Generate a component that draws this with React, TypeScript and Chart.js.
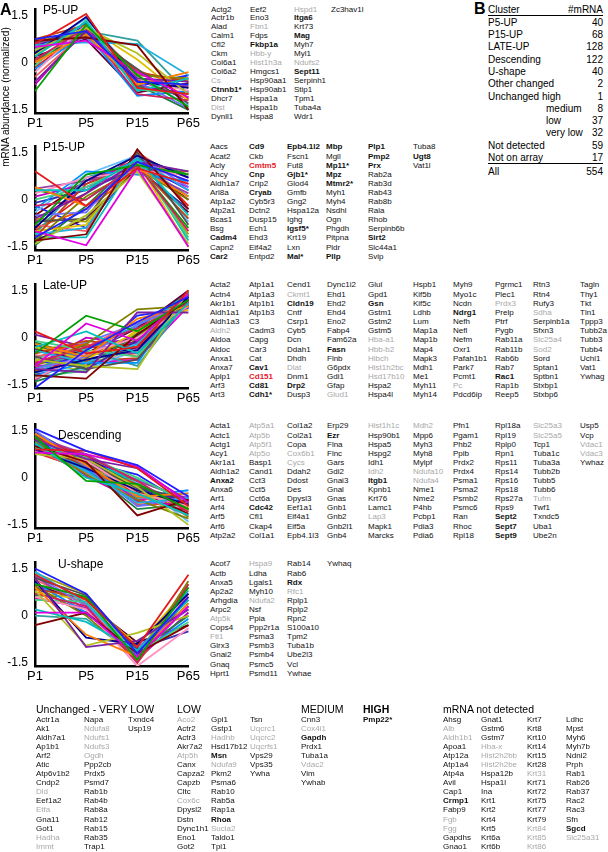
import React, { useEffect, useRef } from 'react';
import { Chart, registerables } from 'chart.js';

Chart.register(...registerables);

const FONT = '"Liberation Sans", Arial, Helvetica, sans-serif';

// ---------- chart data ----------
const timepoints = ['P1', 'P5', 'P15', 'P65'];
const yTickValues = [-1.5, 0, 1.5];

const p5UpSeries = [
  [0.75, 1.0, -0.6, -0.7], [0.6, 1.55, -0.8, -1.0], [-0.9, 1.2, -0.4, -1.4], [0.5, 0.7, -0.3, -1.1],
  [0.2, 1.3, -0.9, -0.5], [0.7, 0.8, 0.55, -1.5], [-0.6, 1.0, -0.5, -0.6], [0.4, 1.1, 0.3, -1.0],
  [0.0, 0.9, -0.7, -0.3], [0.3, 1.45, -0.6, -0.8], [0.1, 1.1, -1.0, -1.2], [0.55, 0.65, 0.6, -0.4],
  [-0.3, 1.2, -0.5, -0.9], [0.65, 0.95, -0.2, -1.3], [0.35, 1.0, -0.4, -0.5], [-0.1, 1.35, -0.85, -1.0],
  [0.45, 0.8, -0.6, -1.45], [0.75, 1.2, -0.3, -0.6], [-0.2, 0.95, -1.05, -0.9], [0.25, 1.15, 0.1, -1.2],
  [0.6, 1.05, -0.5, -0.75], [0.1, 0.85, -0.7, -1.5], [-0.45, 1.0, -0.6, -0.5], [0.5, 1.25, -0.8, -0.95],
  [0.55, 1.0, 0.7, -1.0], [0.7, 0.9, -0.35, -0.55], [-0.7, 1.1, -0.7, -1.1], [0.2, 0.75, -0.95, -0.65],
  [0.4, 1.4, -0.45, -1.35], [0.05, 1.0, -0.25, -0.8], [0.6, 1.15, -0.75, -0.4], [-0.15, 1.05, -0.55, -1.15],
];

const p15UpSeries = [
  [-1.2, -0.3, 1.2, 0.6], [0.9, -0.2, 1.0, 0.5], [-0.8, 0.8, 1.1, 0.8], [-1.0, -1.45, 1.0, -1.5],
  [0.3, 0.3, 1.3, -0.5], [-1.3, -1.1, 1.6, -0.3], [-0.6, 0.2, 1.2, 0.9], [-1.4, -0.5, 0.9, -1.4],
  [0.4, -0.2, 1.0, 0.1], [-0.9, 0.6, 1.4, 0.7], [-0.2, 0.0, 1.1, -1.0], [-1.1, -0.9, 1.3, 0.3],
  [0.2, 0.7, 0.9, 0.8], [-0.7, -0.6, 1.5, -0.8], [-1.3, 0.1, 1.0, 0.0], [0.0, 0.4, 1.2, -1.2],
  [-0.5, -0.4, 1.4, 0.4], [-1.2, 0.5, 1.1, -0.6], [-0.3, 0.9, 0.8, 0.6], [-1.0, -0.8, 1.2, -1.5],
  [0.35, 0.6, 1.0, 0.2], [-1.45, -0.2, 1.3, 0.8], [-0.8, -1.0, 1.5, 0.5], [-0.1, 0.3, 1.0, -0.3],
  [-1.1, 0.7, 1.2, 0.1], [-0.6, -0.7, 1.1, -1.1], [0.1, 0.5, 1.3, 0.7], [-1.3, -0.6, 1.0, -0.4],
  [-0.4, 0.8, 1.4, -0.7], [-0.9, -0.3, 0.9, 0.9], [-0.2, -0.9, 1.2, 0.3], [-1.0, 0.2, 1.5, -0.2],
  [0.3, 0.0, 1.1, -0.9], [-0.7, 0.4, 1.0, 0.4], [-1.2, -1.2, 1.3, -1.3], [-0.5, 0.6, 1.2, 0.0],
];

const lateUpSeries = [
  [-1.6, -0.4, 0.5, 1.3], [0.2, -0.5, -0.3, 1.5], [-0.5, 0.7, 0.2, 1.2], [-0.9, 0.45, -0.1, 1.4],
  [-0.3, 0.2, -0.5, 1.1], [-1.2, -1.3, 0.1, 1.2], [-1.0, -1.1, 0.8, 0.8], [-0.7, -0.9, -1.0, 1.5],
  [-0.2, -0.6, 0.6, 1.0], [-1.1, -0.7, -0.4, 1.3], [-0.8, -0.3, 0.3, 1.1], [-0.4, -0.8, -0.2, 1.4],
  [-1.3, -0.5, 0.0, 1.0], [-0.6, -1.0, -0.7, 1.2], [-0.9, -0.2, 0.9, 1.0], [-0.1, -0.4, -0.6, 1.3],
  [-1.0, -0.6, 0.4, 1.15], [-0.5, -0.1, -0.3, 1.35], [-1.2, -0.8, -0.8, 1.45], [-0.3, -0.7, 0.2, 0.9],
  [-0.8, -0.5, -0.5, 1.25], [-1.4, -0.9, 0.1, 1.1], [-0.6, -0.3, 0.5, 1.05], [-0.2, -1.0, -0.1, 1.4],
  [-1.0, -0.4, -0.9, 1.2], [-0.7, -0.6, 0.0, 1.3], [-0.9, 0.0, -0.2, 1.0], [-0.4, -0.5, 0.3, 1.5],
  [-1.1, -1.0, -0.4, 1.1], [-0.5, -0.2, -0.6, 1.2], [-0.8, -0.7, 0.7, 0.95], [-1.3, -0.3, -0.3, 1.35],
  [-0.3, -0.9, 0.1, 1.2], [-0.9, -0.8, -0.7, 1.0], [-0.6, -0.4, 0.4, 1.4], [-1.2, -0.6, -0.1, 1.25],
  [0.1, -0.3, 0.0, 1.1], [-0.7, -1.1, 0.2, 1.3], [-1.0, -0.5, -0.5, 1.5], [-0.4, -0.7, -0.3, 1.05],
  [-0.85, -0.45, -0.15, 1.15], [-1.15, -0.35, 0.35, 1.3], [-0.55, -0.85, -0.45, 1.1], [-0.95, -0.65, 0.15, 1.45],
  [-0.35, -0.25, -0.05, 1.25], [-1.25, -1.05, -0.25, 1.05], [-0.65, -0.15, 0.45, 1.35], [-1.05, -0.75, -0.65, 1.2],
  [-0.45, -0.55, 0.05, 0.95], [-0.75, -0.95, 0.25, 1.4], [-1.35, -0.45, -0.35, 1.15], [-0.15, -0.65, 0.15, 1.3],
];

const descendingSeries = [
  [1.55, 0.85, 0.4, -0.6], [0.9, 0.85, 0.3, -0.9], [1.3, -0.1, -0.2, -1.0], [0.8, 0.75, 0.35, -0.8],
  [1.1, 0.0, -0.5, -1.2], [1.0, 0.5, -1.2, -0.7], [1.2, 0.6, 0.3, -0.75], [0.75, 0.6, -0.3, -1.5],
  [1.4, 0.4, -0.6, -0.5], [0.9, 0.3, -0.4, -0.85], [1.25, 0.7, -0.1, -1.1], [1.05, 0.2, -0.8, -0.65],
  [0.85, 0.55, -0.5, -0.9], [1.35, 0.45, -0.3, -0.7], [1.15, 0.1, -0.7, -1.3], [0.95, 0.65, 0.0, -0.8],
  [1.5, 0.35, -0.9, -0.6], [1.0, 0.4, -0.2, -1.0], [1.2, 0.25, -0.6, -0.4], [0.8, 0.5, -0.4, -0.95],
  [1.3, 0.75, -0.1, -0.7], [1.1, 0.3, -1.0, -0.85], [0.9, 0.15, -0.55, -1.2], [1.45, 0.55, -0.35, -0.75],
  [1.05, 0.6, -0.65, -0.5], [0.85, 0.35, -0.25, -1.05], [1.25, 0.05, -0.75, -0.9], [1.0, 0.7, -0.45, -0.65],
  [1.35, 0.2, -0.15, -1.4], [0.95, 0.45, -0.85, -0.8], [1.15, 0.5, 0.1, -0.9], [0.8, 0.25, -0.5, -0.7],
  [1.4, 0.6, -0.3, -1.0], [1.1, 0.4, -0.7, -0.6], [0.9, 0.65, -0.2, -0.85], [1.2, 0.3, -0.4, -1.15],
  [1.05, 0.5, -0.35, -0.8], [0.85, 0.2, -0.6, -0.95], [1.3, 0.55, -0.5, -0.75], [1.15, 0.7, -0.25, -0.85],
  [0.95, 0.35, -0.7, -1.05], [1.25, 0.45, -0.05, -0.7], [0.8, 0.4, -0.45, -0.6], [1.4, 0.3, -0.55, -0.9],
  [1.0, 0.6, -0.15, -1.25], [1.2, 0.15, -0.4, -0.8], [0.9, 0.5, -0.9, -0.75], [1.1, 0.65, -0.3, -1.0],
];

const uShapeSeries = [
  [1.5, 0.7, -1.2, 0.6], [1.3, 0.5, -1.0, 1.3], [1.0, 0.6, -1.4, 0.9], [0.1, 0.1, -1.3, 0.3],
  [0.2, -0.2, -1.1, 0.5], [-0.3, 0.1, -1.2, -0.3], [1.2, -1.0, -0.8, 0.2], [0.8, -0.95, -0.55, 0.0],
  [0.9, -0.6, -1.3, 0.4], [1.1, -0.7, -0.9, 0.7], [0.7, 0.3, -1.5, 1.0], [1.4, 0.4, -1.3, 0.8],
  [0.6, 0.2, -1.6, -0.4], [1.2, 0.65, -1.1, 0.5], [0.95, 0.0, -1.4, 1.1], [0.5, 0.45, -1.2, -0.2],
  [1.3, 0.3, -1.0, 0.2], [0.85, 0.55, -1.5, 0.6], [1.05, 0.1, -1.25, -0.1], [0.75, 0.5, -0.95, 0.9],
  [1.25, 0.2, -1.35, 0.3], [0.65, 0.6, -1.15, 0.0], [1.15, 0.35, -1.45, 0.7], [0.9, 0.05, -1.05, -0.5],
  [0.0, -0.1, -1.3, 0.4], [1.35, 0.7, -1.2, 1.0], [0.55, 0.25, -1.4, 0.1], [1.0, 0.4, -0.85, -0.3],
];

const lineColors = [
  '#1f1fff', '#e41a1c', '#00a000', '#e000e0', '#00c0c0', '#800000', '#7b1fa2', '#b0c020',
  '#ff7f00', '#000090', '#d02060', '#20b0e0', '#ff90c0', '#505050', '#808000', '#40d080',
  '#7070ff', '#c04010', '#0090ff', '#e0c000', '#a040a0', '#208040', '#f06060', '#3030b0',
  '#30a0a0', '#a0a000', '#c000c0', '#600030', '#60c0ff', '#ff5000',
];

// ---------- gene lists ----------
const p5UpGenes = [
  'Actg2', 'Actr1b', 'Alad', 'Calm1', 'Cfl2', 'Ckm', 'Col6a1', 'Col6a2', 'Cs', 'Ctnnb1*', 'Dhcr7', 'Dlst', 'Dynll1',
  'Eef2', 'Eno3', 'Fbn1', 'Fdps', 'Fkbp1a', 'Hbb-y', 'Hist1h3a', 'Hmgcs1', 'Hsp90aa1', 'Hsp90ab1', 'Hspa1a', 'Hspa1b', 'Hspa8',
  'Hspd1', 'Itga6', 'Krt73', 'Mag', 'Myh7', 'Myl1', 'Ndufs2', 'Sept11', 'Serpinh1', 'Stip1', 'Tpm1', 'Tuba4a', 'Wdr1',
  'Zc3hav1l',
];
const p15UpGenes = [
  'Aacs', 'Acat2', 'Acly', 'Ahcy', 'Aldh1a7', 'Arl8a', 'Atp1a2', 'Atp2a1', 'Bcas1', 'Bsg', 'Cadm4', 'Capn2', 'Car2',
  'Cd9', 'Ckb', 'Cmtm5', 'Cnp', 'Crip2', 'Cryab', 'Cyb5r3', 'Dctn2', 'Dusp15', 'Ech1', 'Ehd3', 'Eif4a2', 'Entpd2',
  'Epb4.1l2', 'Fscn1', 'Fut8', 'Gjb1*', 'Glod4', 'Gmfb', 'Gng2', 'Hspa12a', 'Ighg', 'Igsf5*', 'Krt19', 'Lxn', 'Mal*',
  'Mbp', 'Mgll', 'Mp11*', 'Mpz', 'Mtmr2*', 'Myh1', 'Myh4', 'Nsdhl', 'Ogn', 'Phgdh', 'Pitpna', 'Pldr', 'Pllp',
  'Plp1', 'Pmp2', 'Prx', 'Rab2a', 'Rab3d', 'Rab43', 'Rab8b', 'Rala', 'Rhob', 'Serpinb6b', 'Sirt2', 'Slc44a1', 'Svip',
  'Tuba8', 'Ugt8', 'Vat1l',
];
const lateUpGenes = [
  'Acta2', 'Actn4', 'Akr1b1', 'Aldh1a1', 'Aldh1a3', 'Aldh2', 'Aldoa', 'Aldoc', 'Anxa1', 'Anxa7', 'Aplp1', 'Arf3', 'Art3',
  'Atp1a1', 'Atp1a3', 'Atp1b1', 'Atp1b3', 'C3', 'Cadm3', 'Capg', 'Car3', 'Cat', 'Cav1', 'Cd151', 'Cd81', 'Cdh1*',
  'Cend1', 'Ckmt1', 'Cldn19', 'Cntf', 'Csrp1', 'Cyb5', 'Dcn', 'Ddah1', 'Dhdh', 'Dlat', 'Dnm1', 'Drp2', 'Dusp3',
  'Dync1i2', 'Ehd1', 'Ehd2', 'Ehd4', 'Eno2', 'Fabp4', 'Fam62a', 'Fasn', 'Flnb', 'G6pdx', 'Gdi1', 'Gfap', 'Glud1',
  'Glul', 'Gpd1', 'Gsn', 'Gstm1', 'Gstm2', 'Gstm5', 'Hba-a1', 'Hbb-b2', 'Hibch', 'Hist1h2bc', 'Hsd17b10', 'Hspa2', 'Hspa4l',
  'Hspb1', 'Kif5b', 'Kif5c', 'Ldhb', 'Lum', 'Map1a', 'Map1b', 'Map4', 'Mapk3', 'Mdh1', 'Me1', 'Myh11', 'Myh14',
  'Myh9', 'Myo1c', 'Ncdn', 'Ndrg1', 'Nefh', 'Nefl', 'Nefm', 'Oxr1', 'Pafah1b1', 'Park7', 'Pcmt1', 'Pc', 'Pdcd6ip',
  'Pgrmc1', 'Plec1', 'Prdx3', 'Prelp', 'Ptrf', 'Pygb', 'Rab11a', 'Rab11b', 'Rab6b', 'Rab7', 'Rac1', 'Rap1b', 'Reep5',
  'Rtn3', 'Rtn4', 'Rufy3', 'Sdha', 'Serpinb1a', 'Sfxn3', 'Slc25a4', 'Sod2', 'Sord', 'Sptan1', 'Sptbn1', 'Stxbp1', 'Stxbp6',
  'Tagln', 'Thy1', 'Tkt', 'Tln1', 'Tppp3', 'Tubb2a', 'Tubb3', 'Tubb4', 'Uchl1', 'Vat1', 'Ywhag',
];
const descendingGenes = [
  'Acta1', 'Actc1', 'Actg1', 'Acy1', 'Akr1a1', 'Aldh1a2', 'Anxa2', 'Anxa6', 'Arf1', 'Arf4', 'Arf5', 'Arf6', 'Atp2a2',
  'Atp5a1', 'Atp5b', 'Atp5f1', 'Atp5o', 'Basp1', 'Cand1', 'Cct3', 'Cct5', 'Cct6a', 'Cdc42', 'Cfl1', 'Ckap4', 'Col1a1',
  'Col1a2', 'Col2a1', 'Copa', 'Cox6b1', 'Cycs', 'Ddah2', 'Ddost', 'Des', 'Dpysl3', 'Eef1a1', 'Eif4a1', 'Eif5a', 'Epb4.1l3',
  'Erp29', 'Ezr', 'Flna', 'Flnc', 'Gars', 'Gdi2', 'Gnai3', 'Gnal', 'Gnas', 'Gnb1', 'Gnb2', 'Gnb2l1', 'Gnb4',
  'Hist1h1c', 'Hsp90b1', 'Hspa5', 'Hspg2', 'Idh1', 'Idh2', 'Itgb1', 'Kpnb1', 'Krt76', 'Lamc1', 'Lap3', 'Mapk1', 'Marcks',
  'Mdh2', 'Mpp6', 'Myh3', 'Myh8', 'Mylpf', 'Ndufa10', 'Ndufa4', 'Nme1', 'Nme2', 'P4hb', 'Pcbp1', 'Pdia3', 'Pdia6',
  'Pfn1', 'Pgam1', 'Phb2', 'Ppib', 'Prdx2', 'Prdx4', 'Psma1', 'Psma2', 'Psmb2', 'Psmc6', 'Ran', 'Rhoc', 'Rpl18',
  'Rpl18a', 'Rpl19', 'Rplp0', 'Rpn1', 'Rps11', 'Rps14', 'Rps16', 'Rps18', 'Rps27a', 'Rps9', 'Sept2', 'Sept7', 'Sept9',
  'Slc25a3', 'Slc25a5', 'Tcp1', 'Tuba1c', 'Tuba3a', 'Tubb2b', 'Tubb5', 'Tubb6', 'Tufm', 'Twf1', 'Txndc5', 'Uba1', 'Ube2n',
  'Usp5', 'Vcp', 'Vdac1', 'Vdac3', 'Ywhaz',
];
const uShapeGenes = [
  'Acot7', 'Actb', 'Anxa5', 'Ap2a2', 'Arhgdia', 'Arpc2', 'Atp5k', 'Cops4', 'Ftl1', 'Glrx3', 'Gnai2', 'Gnaq', 'Hprt1',
  'Hspa9', 'Ldha', 'Lgals1', 'Myh10', 'Ndufa2', 'Nsf', 'Ppia', 'Ppp2r1a', 'Psma3', 'Psmb3', 'Psmb4', 'Psmc5', 'Psmd11',
  'Rab14', 'Rab6', 'Rdx', 'Rfc1', 'Rplp1', 'Rplp2', 'Rpn2', 'S100a10', 'Tpm2', 'Tuba1b', 'Ube2l3', 'Vcl', 'Ywhae',
  'Ywhaq',
];
const veryLowGenes = [
  'Actr1a', 'Ak1', 'Aldh7a1', 'Ap1b1', 'Arf2', 'Atic', 'Atp6v1b2', 'Cndp2', 'Dld', 'Eef1a2', 'Etfa', 'Gna11', 'Got1', 'Hadha', 'Immt',
  'Napa', 'Ndufa8', 'Ndufs1', 'Ndufs3', 'Ogdh', 'Ppp2cb', 'Prdx5', 'Psmd7', 'Rab1b', 'Rab4b', 'Rab8a', 'Rab12', 'Rab15', 'Rab35', 'Trap1',
  'Txndc4', 'Usp19',
];
const lowGenes = [
  'Aco2', 'Actr2', 'Actr3', 'Akr7a2', 'Atp5h', 'Canx', 'Capza2', 'Capzb', 'Cltc', 'Cox6c', 'Dpysl2', 'Dstn', 'Dync1h1', 'Eno1', 'Got2',
  'Gpi1', 'Gstp1', 'Hadhb', 'Hsd17b12', 'Msn', 'Ndufa9', 'Pkm2', 'Psma6', 'Rab10', 'Rab5a', 'Rap1a', 'Rhoa', 'Sucla2', 'Taldo1', 'Tpi1',
  'Tsn', 'Uqcrc1', 'Uqcrc2', 'Uqcrfs1', 'Vps29', 'Vps35', 'Ywha',
];
const mediumGenes = ['Cnn3', 'Cox4i1', 'Gapdh', 'Prdx1', 'Tuba1a', 'Vdac2', 'Vim', 'Ywhab'];
const highGenes = ['Pmp22*'];
const notDetectedGenes = [
  'Ahsg', 'Alb', 'Aldh1b1', 'Apoa1', 'Atp12a', 'Atp1a4', 'Atp4a', 'Avil', 'Cap1', 'Crmp1', 'Fabp9', 'Fgb', 'Fgg', 'Gapdhs', 'Gnao1',
  'Gnat1', 'Gstm6', 'Gstm7', 'Hba-x', 'Hist2h2bb', 'Hist2h2be', 'Hspa12b', 'Hspa1l', 'Ina', 'Krt1', 'Krt2', 'Krt4', 'Krt5', 'Krt6a', 'Krt6b',
  'Krt7', 'Krt8', 'Krt10', 'Krt14', 'Krt15', 'Krt28', 'Krt31', 'Krt71', 'Krt72', 'Krt75', 'Krt77', 'Krt79', 'Krt84', 'Krt85', 'Krt86',
  'Ldhc', 'Mpst', 'Myh6', 'Myh7b', 'Ndnl2', 'Prph', 'Rab1', 'Rab26', 'Rab37', 'Rac2', 'Rac3', 'Sfn', 'Sgcd', 'Slc25a31',
];

const boldGenes = [
  'Ctnnb1*', 'Fkbp1a', 'Itga6', 'Mag', 'Sept11',
  'Cadm4', 'Car2', 'Cd9', 'Cmtm5', 'Cnp', 'Cryab', 'Epb4.1l2', 'Gjb1*', 'Igsf5*', 'Mal*', 'Mbp', 'Mp11*', 'Mpz', 'Mtmr2*',
  'Pllp', 'Plp1', 'Pmp2', 'Prx', 'Sirt2', 'Ugt8',
  'Cav1', 'Cd151', 'Cd81', 'Cdh1*', 'Cldn19', 'Drp2', 'Fasn', 'Gsn', 'Ndrg1', 'Rac1',
  'Anxa2', 'Cdc42', 'Ezr', 'Itgb1', 'Sept2', 'Sept7', 'Sept9', 'Rdx',
  'Msn', 'Rhoa', 'Gapdh', 'Pmp22*', 'Crmp1', 'Sgcd',
];
const redGenes = ['Cmtm5', 'Cd151'];
const grayGenes = [
  'Cs', 'Dlst', 'Fbn1', 'Hbb-y', 'Hist1h3a', 'Hspd1', 'Ndufs2',
  'Aldh2', 'Ckmt1', 'Dlat', 'Glud1', 'Hba-a1', 'Hbb-b2', 'Hibch', 'Hist1h2bc', 'Hsd17b10', 'Pc', 'Prdx3', 'Sdha', 'Slc25a4', 'Sod2',
  'Atp5a1', 'Atp5b', 'Atp5f1', 'Atp5o', 'Cox6b1', 'Cycs', 'Hist1h1c', 'Idh2', 'Lap3', 'Mdh2', 'Ndufa10', 'Ndufa4',
  'Slc25a3', 'Slc25a5', 'Tufm', 'Vdac1', 'Vdac3',
  'Atp5k', 'Ftl1', 'Hspa9', 'Ndufa2', 'Rfc1',
  'Dld', 'Etfa', 'Hadha', 'Immt', 'Ndufa8', 'Ndufs1', 'Ndufs3', 'Ogdh',
  'Aco2', 'Atp5h', 'Cox6c', 'Hadhb', 'Ndufa9', 'Sucla2', 'Uqcrc1', 'Uqcrc2', 'Uqcrfs1',
  'Cox4i1', 'Vdac2',
  'Alb', 'Aldh1b1', 'Fgb', 'Fgg', 'Hba-x', 'Hist2h2bb', 'Hist2h2be', 'Krt31', 'Krt84', 'Krt85', 'Krt86', 'Slc25a31',
];

// ---------- table B ----------
const clusterNames = [
  'P5-UP', 'P15-UP', 'LATE-UP', 'Descending', 'U-shape', 'Other changed', 'Unchanged high',
  'medium', 'low', 'very low', 'Not detected', 'Not on array',
];
const clusterCounts = [40, 68, 128, 122, 40, 2, 1, 8, 37, 32, 59, 17];
const totalLabel = 'All';
const totalCount = 554;

// ---------- components ----------
function LinePanel({ series, top }: { series: number[][]; top: number }) {
  const ref = useRef<HTMLCanvasElement>(null);
  useEffect(() => {
    const chart = new Chart(ref.current as HTMLCanvasElement, {
      type: 'line',
      data: {
        labels: timepoints,
        datasets: series.map((s, i) => ({
          data: s,
          borderColor: lineColors[i % lineColors.length],
          backgroundColor: lineColors[i % lineColors.length],
          borderWidth: 1.8,
          pointRadius: 0,
          fill: false,
          tension: 0,
        })),
      },
      options: {
        animation: false,
        responsive: false,
        maintainAspectRatio: false,
        layout: { padding: { top: 8, right: 12, left: 0, bottom: 0 } },
        plugins: { legend: { display: false }, tooltip: { enabled: false } },
        scales: {
          x: {
            type: 'category',
            offset: false,
            grid: { display: false, drawTicks: false },
            border: { display: true, color: '#000', width: 2.5 },
            ticks: { color: '#000', font: { family: FONT, size: 13 }, padding: 3, maxRotation: 0, autoSkip: false },
            afterFit: (s: any) => { s.height = 20; },
          },
          y: {
            min: -1.6,
            max: 1.7,
            grid: { display: false, drawTicks: false },
            border: { display: true, color: '#000', width: 2.5 },
            ticks: {
              color: '#000',
              font: { family: FONT, size: 12 },
              padding: 7,
              callback: (v: any) => (Number(v) === 0 ? '0' : String(v)),
            },
            afterBuildTicks: (s: any) => { s.ticks = yTickValues.map((v) => ({ value: v })); },
            afterFit: (s: any) => { s.width = 35; },
          },
        },
      },
    });
    return () => chart.destroy();
  }, [series]);
  return (
    <canvas
      ref={ref}
      width={203}
      height={138}
      style={{ position: 'absolute', left: 0, top, width: 203, height: 138 }}
    />
  );
}

function Txt({ x, y, size, children, bold, color, align, width }: any) {
  return (
    <div
      style={{
        position: 'absolute',
        left: align === 'right' ? x - (width || 100) : x,
        width: align === 'right' ? width || 100 : undefined,
        textAlign: align === 'right' ? 'right' : 'left',
        top: y - size * 0.6,
        height: size * 1.2,
        lineHeight: `${size * 1.2}px`,
        fontSize: size,
        fontFamily: FONT,
        fontWeight: bold ? 'bold' : 'normal',
        color: color || '#000',
        whiteSpace: 'nowrap',
      }}
    >
      {children}
    </div>
  );
}

function GeneList({ genes, xs, y0, dy, perCol }: { genes: string[]; xs: number[]; y0: number; dy: number; perCol: number }) {
  const items: any[] = [];
  genes.forEach((g, i) => {
    const c = Math.floor(i / perCol);
    const r = i % perCol;
    const red = redGenes.includes(g);
    const gray = grayGenes.includes(g);
    const bold = boldGenes.includes(g);
    items.push(
      <div
        key={g + i}
        style={{
          position: 'absolute',
          left: xs[c],
          top: y0 - dy / 2 + r * dy,
          height: dy,
          lineHeight: `${dy}px`,
          fontSize: 8,
          fontFamily: FONT,
          fontWeight: bold ? 'bold' : 'normal',
          color: red ? '#e8202a' : gray ? '#a8a8a8' : '#111',
          whiteSpace: 'nowrap',
        }}
      >
        {g}
      </div>
    );
  });
  return <>{items}</>;
}

const wideCols = [210, 249, 287, 327, 368, 413, 453, 495, 533, 580];

export default function App() {
  const rowY = (i: number) => 22.7 + i * 12.3;
  return (
    <div style={{ position: 'absolute', left: 0, top: 0, width: 608, height: 852, background: '#fff', overflow: 'hidden' }}>
      <LinePanel series={p5UpSeries} top={-5} />
      <LinePanel series={p15UpSeries} top={132} />
      <LinePanel series={lateUpSeries} top={270} />
      <LinePanel series={descendingSeries} top={410} />
      <LinePanel series={uShapeSeries} top={548} />

      <Txt x={0} y={10} size={16} bold>A</Txt>
      <div
        style={{
          position: 'absolute', left: 6 - 80, top: 97 - 6, width: 160, height: 12, lineHeight: '12px',
          textAlign: 'center', fontSize: 10, fontFamily: FONT, transform: 'rotate(-90deg)', whiteSpace: 'nowrap',
        }}
      >
        mRNA abundance (normalized)
      </div>

      <Txt x={43} y={10} size={12}>P5-UP</Txt>
      <Txt x={43} y={147} size={12}>P15-UP</Txt>
      <Txt x={43} y={285} size={12}>Late-UP</Txt>
      <Txt x={58} y={435} size={12}>Descending</Txt>
      <Txt x={58} y={564} size={12}>U-shape</Txt>

      <GeneList genes={p5UpGenes} xs={[211, 250, 294, 331]} y0={10} dy={8.95} perCol={13} />
      <GeneList genes={p15UpGenes} xs={[210, 249, 287, 326, 368, 413]} y0={147} dy={9.1} perCol={13} />
      <GeneList genes={lateUpGenes} xs={wideCols} y0={285} dy={9.17} perCol={13} />
      <GeneList genes={descendingGenes} xs={wideCols} y0={426} dy={9.1} perCol={13} />
      <GeneList genes={uShapeGenes} xs={wideCols} y0={564} dy={9.1} perCol={13} />

      <Txt x={36} y={709} size={10.5}>Unchanged - VERY LOW</Txt>
      <Txt x={177} y={709} size={10.5}>LOW</Txt>
      <Txt x={301} y={709} size={10.5}>MEDIUM</Txt>
      <Txt x={363} y={709} size={10.5} bold>HIGH</Txt>
      <Txt x={443} y={709} size={10.5}>mRNA not detected</Txt>
      <GeneList genes={veryLowGenes} xs={[36, 84, 128]} y0={719.3} dy={9.07} perCol={15} />
      <GeneList genes={lowGenes} xs={[177, 211, 250]} y0={719.3} dy={9.07} perCol={15} />
      <GeneList genes={mediumGenes} xs={[301]} y0={719.3} dy={9.07} perCol={15} />
      <GeneList genes={highGenes} xs={[363]} y0={719.3} dy={9.07} perCol={15} />
      <GeneList genes={notDetectedGenes} xs={[443, 481, 527, 566]} y0={719.3} dy={9.07} perCol={15} />

      <Txt x={474} y={9} size={16} bold>B</Txt>
      <Txt x={488} y={10} size={10}>Cluster</Txt>
      <Txt x={603} y={10} size={10} align="right">#mRNA</Txt>
      <div style={{ position: 'absolute', left: 488, top: 15, width: 115, height: 1, background: '#000' }} />
      {clusterNames.map((n, i) => (
        <React.Fragment key={n}>
          <Txt x={i >= 7 && i <= 9 ? 546 : 488} y={rowY(i)} size={10}>{n}</Txt>
          <Txt x={603} y={rowY(i)} size={10} align="right">{clusterCounts[i]}</Txt>
        </React.Fragment>
      ))}
      <div style={{ position: 'absolute', left: 488, top: 163, width: 115, height: 1, background: '#000' }} />
      <Txt x={488} y={171.5} size={10}>{totalLabel}</Txt>
      <Txt x={603} y={171.5} size={10} align="right">{totalCount}</Txt>
    </div>
  );
}
